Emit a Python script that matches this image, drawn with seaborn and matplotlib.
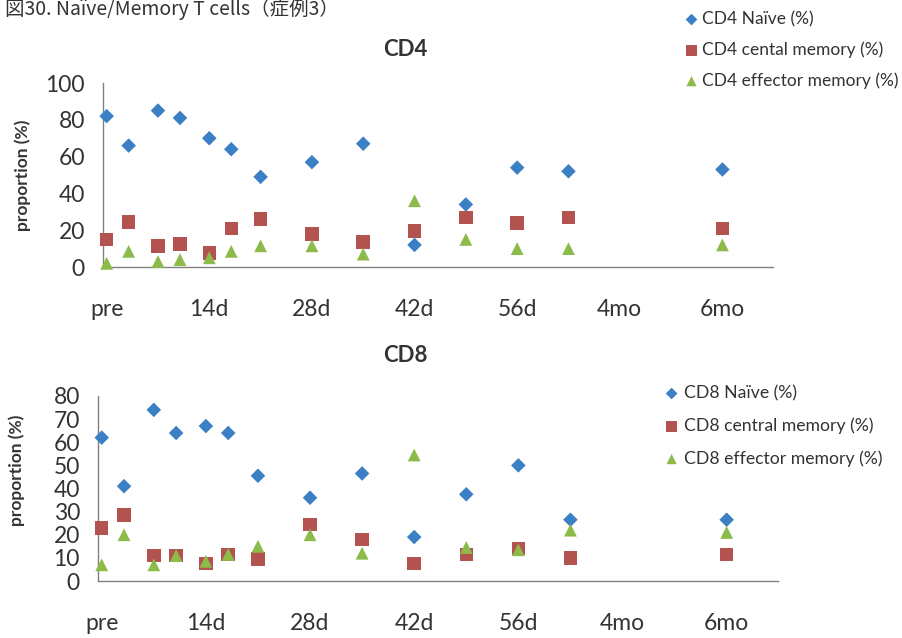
import numpy as np
import pandas as pd
import matplotlib
matplotlib.use("Agg")
import matplotlib.pyplot as plt
import seaborn as sns

# ---------------- data ----------------
days = [0.5, 3.5, 7.5, 10.5, 14.5, 17.5, 21.5, 28.5, 35.5, 42.5, 49.5, 56.5, 63.5, 84.5]

cd4_naive = [82, 66, 85, 81, 70, 64, 49, 57, 67, 12, 34, 54, 52, 53]
cd4_cm = [15, 24.5, 11.5, 12.5, 7.5, 21, 26, 18, 13.5, 19.5, 27, 24, 27, 21]
cd4_em = [2, 8.5, 3, 4, 5, 8.5, 11.5, 11.5, 7, 36, 15, 10, 10, 12]

cd8_naive = [62, 41, 74, 64, 67, 64, 45.5, 36, 46.5, 19, 37.5, 50, 26.5, 26.5]
cd8_cm = [23, 28.5, 11, 11, 7.5, 11.5, 9.5, 24.5, 18, 7.5, 11.5, 14, 10, 11.5]
cd8_em = [7, 20, 7, 11, 8.5, 11.5, 15, 20, 12, 54.5, 14.5, 13.5, 22, 21]

cd4_names = ["CD4 Naïve (%)", "CD4 cental memory (%)", "CD4 effector memory (%)"]
cd8_names = ["CD8 Naïve (%)", "CD8 central memory (%)", "CD8 effector memory (%)"]

x_label_pos = [0.5, 14.5, 28.5, 42.5, 56.5, 70.5, 84.5]
x_labels = ["pre", "14d", "28d", "42d", "56d", "4mo", "6mo"]

colors = ["#3B7FC4", "#B3534F", "#8DBB4A"]
markers = ["D", "s", "^"]
sizes = [55, 95, 85]

# ---------------- style ----------------
sns.set_style("white")
plt.rcParams["font.family"] = ["Lato", "DejaVu Sans"]
TXT = "#333333"
AX = "#808080"

fig = plt.figure(figsize=(9.02, 6.38), dpi=100)
ax4 = fig.add_axes([103 / 902, 1 - 267 / 638, 670 / 902, 184 / 638])
ax8 = fig.add_axes([98 / 902, 1 - 581 / 638, 680 / 902, 185 / 638])


def draw(ax, series, names, ymax, ystep, label_y):
    for vals, name, c, m, s in zip(series, names, colors, markers, sizes):
        df = pd.DataFrame({"day": days, "value": vals})
        sns.scatterplot(data=df, x="day", y="value", ax=ax, marker=m, color=c,
                        s=s, edgecolor="none", linewidth=0, legend=False,
                        label=name, zorder=3, clip_on=False)
    ax.set_xlim(0, 91.4)
    ax.set_ylim(0, ymax)
    ax.set_xticks(np.arange(0, 92, 7))
    ax.set_xticklabels([])
    ax.set_xticks(x_label_pos, minor=True)
    ax.set_xticklabels(x_labels, minor=True)
    ax.set_yticks(np.arange(0, ymax + 1, ystep))
    ax.tick_params(axis="x", which="major", direction="inout", length=13,
                   width=1, color=AX)
    ax.tick_params(axis="x", which="minor", length=0, pad=23,
                   labelsize=16.5, labelcolor=TXT)
    ax.tick_params(axis="y", which="major", direction="inout", length=12,
                   width=1, color=AX, labelsize=16.5, labelcolor=TXT, pad=7)
    for sp in ["top", "right"]:
        ax.spines[sp].set_visible(False)
    for sp in ["left", "bottom"]:
        ax.spines[sp].set_color(AX)
        ax.spines[sp].set_linewidth(1)
    ax.set_xlabel("")
    ax.set_ylabel("proportion (%)", fontsize=12.5, fontweight="bold", color=TXT)
    ax.yaxis.set_label_coords(-0.108, label_y)
    ax.grid(False)


draw(ax4, [cd4_naive, cd4_cm, cd4_em], cd4_names, 100, 20, 0.5)
draw(ax8, [cd8_naive, cd8_cm, cd8_em], cd8_names, 80, 10, 0.6)

fig.text(405 / 902, 1 - 50 / 638, "CD4", ha="center", va="center",
         fontsize=16, fontweight="bold", color=TXT)
fig.text(405 / 902, 1 - 355 / 638, "CD8", ha="center", va="center",
         fontsize=16, fontweight="bold", color=TXT)

# caption at the very top (cut in the scan; kept fully visible here)
fig.text(5 / 902, 1 - 15 / 638, "図30. Naïve/Memory T cells（症例3）", ha="left",
         va="baseline", fontsize=14, color=TXT,
         family=["Noto Sans CJK JP", "DejaVu Sans"])

h4, l4 = ax4.get_legend_handles_labels()
h8, l8 = ax8.get_legend_handles_labels()
fig.legend(h4, l4, loc="upper left", bbox_to_anchor=(685 / 902, 1 - 11 / 638),
           frameon=False, fontsize=12.5, labelcolor=TXT, handlelength=0.75,
           handletextpad=0.25, labelspacing=0.82, borderpad=0,
           borderaxespad=0, markerscale=0.8)
fig.legend(h8, l8, loc="upper left", bbox_to_anchor=(665 / 902, 1 - 385 / 638),
           frameon=False, fontsize=12.7, labelcolor=TXT, handlelength=0.75,
           handletextpad=0.3, labelspacing=0.92, borderpad=0,
           borderaxespad=0, markerscale=0.8)

fig.savefig("out.png", dpi=100, facecolor="white")
